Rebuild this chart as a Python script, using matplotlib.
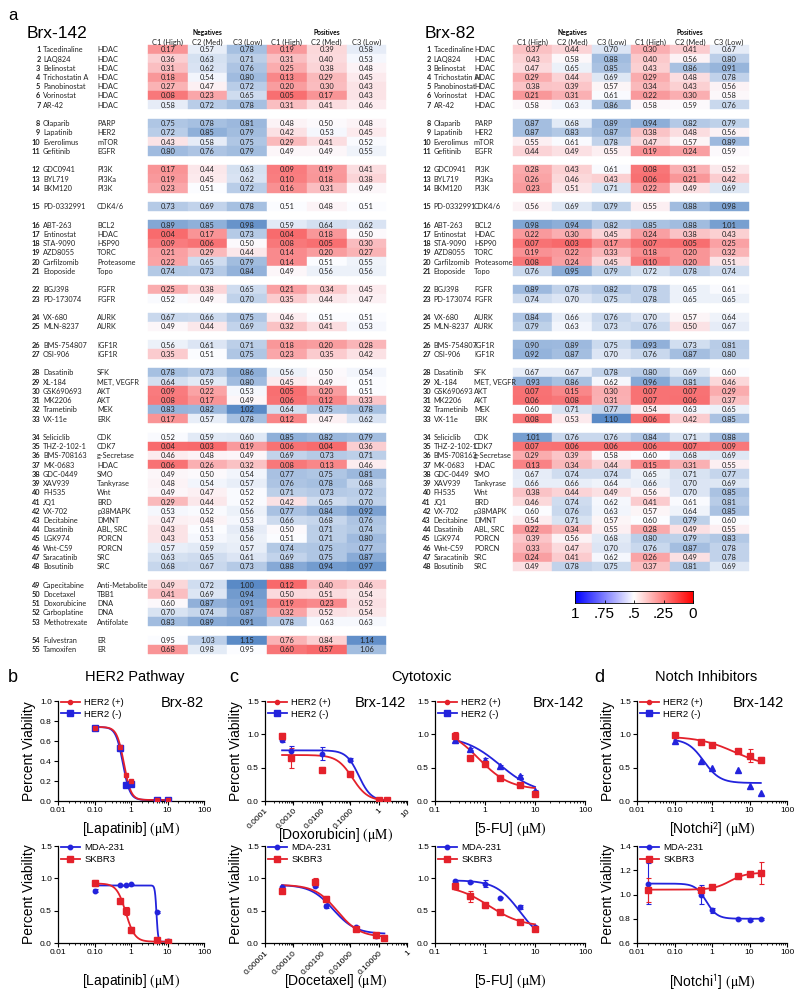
import numpy as np
import matplotlib
matplotlib.use("Agg")
import matplotlib.pyplot as plt
from matplotlib.colors import LinearSegmentedColormap, TwoSlopeNorm
from matplotlib.patches import Rectangle
from matplotlib.lines import Line2D
from matplotlib.ticker import LogLocator, NullFormatter

W, H = 800, 997
plt.rcParams["mathtext.fontset"] = "stix"

# ---------------- panel a: drug screen tables ----------------
DRUGS = ["Tacedinaline", "LAQ824", "Belinostat", "Trichostatin A", "Panobinostat", "Vorinostat", "AR-42",
         "Olaparib", "Lapatinib", "Everolimus", "Gefitinib",
         "GDC0941", "BYL719", "BKM120",
         "PD-0332991",
         "ABT-263", "Entinostat", "STA-9090", "AZD8055", "Carfilzomib", "Etoposide",
         "BGJ398", "PD-173074",
         "VX-680", "MLN-8237",
         "BMS-754807", "OSI-906",
         "Dasatinib", "XL-184", "GSK690693", "MK2206", "Trametinib", "VX-11e",
         "Seliciclib", "THZ-2-102-1", "BMS-708163", "MK-0683", "GDC-0449", "XAV939", "FH535", "JQ1",
         "VX-702", "Decitabine", "Dasatinib", "LGK974", "Wnt-C59", "Saracatinib", "Bosutinib",
         "Capecitabine", "Docetaxel", "Doxorubicine", "Carboplatine", "Methotrexate",
         "Fulvestran", "Tamoxifen"]
TARGETS = ["HDAC"] * 7 + ["PARP", "HER2", "mTOR", "EGFR", "PI3K", "PI3Ka", "PI3K", "CDK4/6",
           "BCL2", "HDAC", "HSP90", "TORC", "Proteasome", "Topo", "FGFR", "FGFR", "AURK", "AURK",
           "IGF1R", "IGF1R", "SFK", "MET, VEGFR", "AKT", "AKT", "MEK", "ERK",
           "CDK", "CDK7", "g-Secretase", "HDAC", "SMO", "Tankyrase", "Wnt", "BRD", "p38MAPK",
           "DMNT", "ABL, SRC", "PORCN", "PORCN", "SRC", "SRC",
           "Anti-Metabolite", "TBB1", "DNA", "DNA", "Antifolate", "ER", "ER"]
COLUMNS = ["C1 (High)", "C2 (Med)", "C3 (Low)"] * 2
GROUP_SIZES = [7, 4, 3, 1, 6, 2, 2, 2, 6, 15, 5, 2]

BRX142 = [
    [0.17, 0.57, 0.78, 0.19, 0.39, 0.58], [0.36, 0.63, 0.71, 0.31, 0.40, 0.53],
    [0.31, 0.62, 0.76, 0.25, 0.38, 0.48], [0.18, 0.54, 0.80, 0.13, 0.29, 0.45],
    [0.27, 0.47, 0.72, 0.20, 0.30, 0.43], [0.08, 0.23, 0.65, 0.05, 0.17, 0.43],
    [0.58, 0.72, 0.78, 0.31, 0.41, 0.46],
    [0.75, 0.78, 0.81, 0.48, 0.50, 0.48], [0.72, 0.85, 0.79, 0.42, 0.53, 0.45],
    [0.43, 0.58, 0.75, 0.29, 0.41, 0.52], [0.80, 0.76, 0.79, 0.49, 0.49, 0.55],
    [0.17, 0.44, 0.63, 0.09, 0.19, 0.41], [0.19, 0.45, 0.62, 0.10, 0.18, 0.38],
    [0.23, 0.51, 0.72, 0.16, 0.31, 0.49],
    [0.73, 0.69, 0.78, 0.51, 0.48, 0.51],
    [0.89, 0.85, 0.98, 0.59, 0.64, 0.62], [0.04, 0.17, 0.73, 0.04, 0.18, 0.50],
    [0.09, 0.06, 0.50, 0.08, 0.05, 0.30], [0.21, 0.29, 0.44, 0.14, 0.20, 0.27],
    [0.22, 0.65, 0.79, 0.14, 0.51, 0.55], [0.74, 0.73, 0.84, 0.49, 0.56, 0.56],
    [0.25, 0.38, 0.65, 0.21, 0.34, 0.45], [0.52, 0.49, 0.70, 0.35, 0.44, 0.47],
    [0.67, 0.66, 0.75, 0.46, 0.51, 0.51], [0.49, 0.44, 0.69, 0.32, 0.41, 0.53],
    [0.56, 0.61, 0.71, 0.18, 0.20, 0.28], [0.35, 0.51, 0.75, 0.23, 0.35, 0.42],
    [0.78, 0.73, 0.86, 0.56, 0.50, 0.54], [0.64, 0.59, 0.80, 0.45, 0.49, 0.51],
    [0.09, 0.22, 0.53, 0.05, 0.20, 0.51], [0.08, 0.17, 0.49, 0.06, 0.12, 0.33],
    [0.83, 0.82, 1.02, 0.64, 0.75, 0.78], [0.17, 0.57, 0.78, 0.12, 0.47, 0.62],
    [0.52, 0.59, 0.60, 0.85, 0.82, 0.79], [0.04, 0.03, 0.19, 0.06, 0.04, 0.36],
    [0.46, 0.48, 0.49, 0.69, 0.73, 0.71], [0.06, 0.26, 0.32, 0.08, 0.13, 0.46],
    [0.49, 0.50, 0.54, 0.77, 0.75, 0.81], [0.48, 0.54, 0.57, 0.76, 0.78, 0.68],
    [0.49, 0.47, 0.52, 0.71, 0.73, 0.72], [0.29, 0.44, 0.52, 0.42, 0.65, 0.70],
    [0.53, 0.52, 0.56, 0.77, 0.84, 0.92], [0.47, 0.48, 0.53, 0.66, 0.68, 0.76],
    [0.43, 0.51, 0.58, 0.50, 0.71, 0.74], [0.43, 0.53, 0.56, 0.51, 0.71, 0.80],
    [0.57, 0.59, 0.57, 0.74, 0.75, 0.77], [0.63, 0.65, 0.61, 0.69, 0.75, 0.87],
    [0.68, 0.67, 0.73, 0.88, 0.94, 0.97],
    [0.49, 0.72, 1.00, 0.12, 0.40, 0.46], [0.41, 0.69, 0.94, 0.50, 0.51, 0.54],
    [0.60, 0.87, 0.91, 0.19, 0.23, 0.52], [0.70, 0.74, 0.87, 0.32, 0.52, 0.54],
    [0.83, 0.89, 0.91, 0.78, 0.63, 0.63],
    [0.95, 1.03, 1.15, 0.76, 0.84, 1.14], [0.68, 0.98, 0.95, 0.60, 0.57, 1.06],
]

BRX82 = [
    [0.37, 0.44, 0.70, 0.30, 0.41, 0.67], [0.43, 0.58, 0.88, 0.40, 0.56, 0.80],
    [0.47, 0.65, 0.85, 0.43, 0.86, 0.91], [0.29, 0.44, 0.69, 0.29, 0.48, 0.78],
    [0.38, 0.39, 0.57, 0.34, 0.43, 0.56], [0.21, 0.31, 0.61, 0.22, 0.30, 0.58],
    [0.58, 0.63, 0.86, 0.58, 0.59, 0.76],
    [0.87, 0.68, 0.89, 0.94, 0.82, 0.79], [0.87, 0.83, 0.87, 0.38, 0.48, 0.56],
    [0.55, 0.61, 0.78, 0.47, 0.57, 0.89], [0.44, 0.49, 0.55, 0.19, 0.24, 0.59],
    [0.28, 0.43, 0.61, 0.08, 0.31, 0.52], [0.26, 0.46, 0.43, 0.06, 0.21, 0.42],
    [0.23, 0.51, 0.71, 0.22, 0.49, 0.69],
    [0.56, 0.69, 0.79, 0.55, 0.88, 0.98],
    [0.98, 0.94, 0.82, 0.85, 0.88, 1.01], [0.22, 0.30, 0.45, 0.24, 0.38, 0.43],
    [0.07, 0.03, 0.17, 0.07, 0.05, 0.25], [0.19, 0.22, 0.33, 0.18, 0.20, 0.32],
    [0.08, 0.24, 0.45, 0.10, 0.20, 0.51], [0.76, 0.95, 0.79, 0.72, 0.78, 0.74],
    [0.89, 0.78, 0.82, 0.78, 0.65, 0.61], [0.74, 0.70, 0.75, 0.78, 0.65, 0.65],
    [0.84, 0.66, 0.76, 0.70, 0.57, 0.64], [0.79, 0.63, 0.73, 0.76, 0.50, 0.67],
    [0.90, 0.89, 0.75, 0.93, 0.73, 0.81], [0.92, 0.87, 0.70, 0.76, 0.87, 0.80],
    [0.67, 0.67, 0.78, 0.80, 0.69, 0.60], [0.93, 0.86, 0.62, 0.96, 0.81, 0.46],
    [0.07, 0.15, 0.30, 0.07, 0.07, 0.29], [0.06, 0.08, 0.31, 0.07, 0.06, 0.37],
    [0.60, 0.71, 0.77, 0.54, 0.63, 0.65], [0.08, 0.53, 1.10, 0.06, 0.42, 0.85],
    [1.01, 0.76, 0.76, 0.84, 0.71, 0.88], [0.07, 0.06, 0.06, 0.06, 0.07, 0.09],
    [0.29, 0.39, 0.58, 0.60, 0.68, 0.69], [0.13, 0.34, 0.44, 0.15, 0.31, 0.55],
    [0.67, 0.74, 0.74, 0.65, 0.71, 0.77], [0.66, 0.66, 0.64, 0.66, 0.70, 0.69],
    [0.38, 0.44, 0.49, 0.56, 0.70, 0.85], [0.46, 0.74, 0.62, 0.41, 0.61, 0.81],
    [0.60, 0.76, 0.63, 0.57, 0.64, 0.85], [0.54, 0.71, 0.57, 0.60, 0.79, 0.60],
    [0.22, 0.34, 0.55, 0.28, 0.49, 0.55], [0.39, 0.56, 0.68, 0.80, 0.79, 0.83],
    [0.33, 0.47, 0.70, 0.76, 0.87, 0.78], [0.24, 0.41, 0.62, 0.26, 0.49, 0.78],
    [0.49, 0.78, 0.75, 0.37, 0.81, 0.69],
]

# row ranges that share one colour scale (as in the spreadsheet formatting)
BRX142_BLOCKS = [(0, 48), (48, 53), (53, 55)]
BRX82_BLOCKS = [(0, 48)]

# ---------------- panels b-d: dose response ----------------
LAP_X = [0.1, 0.5, 0.75, 1, 5, 10]
B1_POS = [0.73, 0.54, 0.26, 0.20, 0.01, 0.01]
B1_NEG = [0.73, 0.53, 0.16, 0.17, 0.01, 0.01]
B1_POS_FIT = (0.74, 0.01, 0.64, 4.5)   # top, bottom, EC50, hill
B1_NEG_FIT = (0.74, 0.01, 0.60, 4.5)

B2_MDA = [0.81, 0.89, 0.90, 0.91, 0.48, 0.03]
B2_MDA_ERR = [0.02, 0.01, 0.01, 0.01, 0.01, 0.01]
B2_SKBR = [0.93, 0.65, 0.50, 0.20, 0.05, 0.01]
B2_SKBR_ERR = [0.05, 0.02, 0.06, 0.04, 0.01, 0.01]
B2_MDA_FIT = (0.89, 0.02, 5.0, 20)
B2_SKBR_FIT = (0.92, 0.02, 0.72, 3.5)

DOX_X = [0.0004, 0.0008, 0.01, 0.1, 1, 2]
C1_POS = [0.97, 0.64, 0.47, 0.40, 0.01, 0.01]
C1_POS_ERR = [0.05, 0.15, 0.04, 0.02, 0.01, 0.01]
C1_NEG = [0.92, 0.75, 0.71, 0.62, 0.01, 0.01]
C1_NEG_ERR = [0.04, 0.08, 0.10, 0.02, 0.01, 0.01]
C1_POS_FIT = (0.69, 0.0, 0.12, 1.6)
C1_NEG_FIT = (0.76, 0.0, 0.20, 2.0)

FU_X = [0.25, 0.5, 1, 2, 5, 10]
C2_POS = [0.97, 0.64, 0.55, 0.35, 0.24, 0.10]
C2_POS_ERR = [0.07, 0.03, 0.03, 0.04, 0.03, 0.03]
C2_NEG = [0.92, 0.78, 0.62, 0.52, 0.37, 0.15]
C2_NEG_ERR = [0.05, 0.02, 0.02, 0.02, 0.02, 0.02]
C2_POS_FIT = (1.10, 0.17, 0.75, 1.4)
C2_NEG_FIT = (0.98, 0.10, 2.0, 1.2)

DOC_X = [0.00004, 0.0006, 0.0014, 0.016, 0.08, 0.16]
C3_MDA = [0.87, 0.88, 0.57, 0.25, 0.11, 0.07]
C3_MDA_ERR = [0.01, 0.01, 0.03, 0.02, 0.01, 0.01]
C3_SKBR = [0.80, 0.94, 0.68, 0.22, 0.12, 0.08]
C3_SKBR_ERR = [0.02, 0.06, 0.05, 0.02, 0.01, 0.01]
C3_MDA_FIT = (0.90, 0.14, 0.0025, 1.1)
C3_SKBR_FIT = (0.90, 0.09, 0.0035, 1.1)

C4_MDA = [0.96, 0.94, 0.92, 0.70, 0.55, 0.24]
C4_MDA_ERR = [0.02, 0.01, 0.05, 0.01, 0.03, 0.02]
C4_SKBR = [0.88, 0.72, 0.58, 0.48, 0.33, 0.21]
C4_SKBR_ERR = [0.05, 0.08, 0.04, 0.01, 0.02, 0.02]
C4_MDA_FIT = (0.97, 0.0, 5.0, 1.8)
C4_SKBR_FIT = (0.90, 0.25, 1.2, 1.3)

NOTCH2_X = [0.1, 0.5, 1, 5, 10, 20]
D1_POS = [0.99, 0.88, 0.84, 0.75, 0.68, 0.62]
D1_POS_ERR = [0.02, 0.02, 0.03, 0.03, 0.10, 0.04]
D1_NEG = [0.90, 0.60, 0.50, 0.47, 0.22, 0.12]
D1_POS_FIT = (0.97, 0.50, 4.0, 0.9)
D1_NEG_FIT = (0.93, 0.27, 0.6, 2.0)

NOTCH1_X = [0.02, 0.5, 1, 5, 10, 20]
D2_MDA = [1.09, 1.00, 0.87, 0.80, 0.79, 0.80]
D2_MDA_ERR = [0.17, 0.08, 0.02, 0.01, 0.01, 0.01]
D2_SKBR = [1.04, 1.04, 1.06, 1.15, 1.17, 1.18]
D2_SKBR_ERR = [0.10, 0.02, 0.01, 0.02, 0.01, 0.09]
D2_MDA_FIT = (1.09, 0.80, 0.7, 3.0)
D2_SKBR_FIT = (1.04, 1.18, 3.0, 2.0)

RED = "#e4212b"
BLUE = "#2323dc"
XL_CMAP = LinearSegmentedColormap.from_list("xl", ["#F8696B", "#FCFCFF", "#5A8AC6"])

ROW0, RH = 49.5, 9.23
TFONT = "Lato"
PFONT = "Liberation Sans"
UM = r" $\mathrm{(\mu M)}$"

fig = plt.figure(figsize=(W / 100, H / 100), dpi=100)
tab = fig.add_axes([0, 0, 1, 1])
tab.set_xlim(0, W)
tab.set_ylim(H, 0)
tab.axis("off")


def row_centers(sizes):
    ys, slot = [], 0
    for s in sizes:
        for _ in range(s):
            ys.append(ROW0 + slot * RH)
            slot += 1
        slot += 1
    return ys


def draw_table(title, title_x, vals, blocks, num_x, tgt_x, x0, cw):
    vals = np.array(vals)
    n = len(vals)
    ys = row_centers(GROUP_SIZES)[:n]
    tab.text(title_x, 33, title, fontsize=12.5, family=PFONT, va="center", ha="left")
    tab.text(x0 + 1.5 * cw, 32.5, "Negatives", fontsize=4.8, fontweight="bold",
             family=TFONT, ha="center", va="center")
    tab.text(x0 + 4.5 * cw, 32.5, "Positives", fontsize=4.8, fontweight="bold",
             family=TFONT, ha="center", va="center")
    for c, lab in enumerate(COLUMNS):
        tab.text(x0 + (c + 0.5) * cw, 42, lab, fontsize=5.4, family=TFONT,
                 ha="center", va="center", color="#222222")
    clip = Rectangle((0, 0), tgt_x - 1.5, H, transform=tab.transData)
    for a, b in blocks:
        block = vals[a:b]
        norm = TwoSlopeNorm(vcenter=np.median(block), vmin=block.min(), vmax=block.max())
        for r in range(a, b):
            for c in range(6):
                col = XL_CMAP(norm(vals[r, c]))
                tab.add_patch(Rectangle((x0 + c * cw, ys[r] - RH / 2), cw, RH,
                                        facecolor=col, edgecolor=col, linewidth=0.3))
                tab.text(x0 + (c + 0.5) * cw, ys[r] + 0.3, f"{vals[r, c]:.2f}",
                         fontsize=5.4, family=TFONT, ha="center", va="center", color="#222222")
    for r in range(n):
        tab.text(num_x, ys[r] + 0.3, str(r + 1), fontsize=5.3, fontweight="bold",
                 family=TFONT, ha="right", va="center", color="#222222")
        t = tab.text(num_x + 2.5, ys[r] + 0.3, DRUGS[r], fontsize=5.3, family=TFONT,
                     ha="left", va="center", color="#222222")
        t.set_clip_path(clip)
        tab.text(tgt_x, ys[r] + 0.3, TARGETS[r], fontsize=5.3, family=TFONT,
                 ha="left", va="center", color="#222222")


tab.text(8, 15, "a", fontsize=12, family=PFONT, va="center")
draw_table("Brx-142", 27, BRX142, BRX142_BLOCKS, 40.5, 97, 148, 39.7)
draw_table("Brx-82", 425, BRX82, BRX82_BLOCKS, 431, 474, 513, 39.3)

# colour bar
cax = fig.add_axes([575 / W, 1 - 603 / H, 118 / W, 12 / H])
cax.imshow(np.linspace(1, 0, 256)[None, :], aspect="auto", cmap="bwr_r",
           extent=[1, 0, 0, 1], vmin=0, vmax=1)
cax.set_xticks([1, 0.75, 0.5, 0.25, 0])
cax.set_xticklabels(["1", ".75", ".5", ".25", "0"], family=PFONT, fontsize=11)
cax.set_yticks([])
cax.tick_params(axis="x", direction="in", length=2.5, width=0.6, pad=3)
for s in cax.spines.values():
    s.set_linewidth(0.6)


# ---------------- bottom panels ----------------
def px_axes(x0, y0, x1, y1):
    return fig.add_axes([x0 / W, 1 - y1 / H, (x1 - x0) / W, (y1 - y0) / H])


def ftext(x, y, s, **kw):
    kw.setdefault("family", PFONT)
    fig.text(x / W, 1 - y / H, s, **kw)


def style(ax, xlim, ylim, yticks, xticks, xlabels, xlabel, ylabel=True, rot=0, lab_y=-0.19):
    ax.set_xscale("log")
    ax.set_xlim(xlim)
    ax.set_ylim(ylim)
    ax.set_yticks(yticks)
    ax.set_yticklabels([f"{t:.1f}" for t in yticks], family=PFONT)
    ax.set_xticks(xticks)
    if rot:
        ax.set_xticklabels(xlabels, rotation=rot, ha="right", rotation_mode="anchor",
                           family=PFONT, fontsize=4.8)
    else:
        ax.set_xticklabels(xlabels, family=PFONT)
    ax.xaxis.set_minor_locator(LogLocator(base=10, subs=np.arange(2, 10), numticks=20))
    ax.xaxis.set_minor_formatter(NullFormatter())
    for s in ["top", "right"]:
        ax.spines[s].set_visible(False)
    for s in ["left", "bottom"]:
        ax.spines[s].set_linewidth(0.9)
    ax.tick_params(labelsize=6, length=3, width=0.8, pad=1.5)
    ax.tick_params(which="minor", length=1.6, width=0.6)
    ax.set_xlabel(xlabel + UM, fontsize=10, family=PFONT)
    ax.xaxis.set_label_coords(0.5, lab_y)
    if ylabel:
        ax.set_ylabel("Percent Viability", fontsize=10, family=PFONT, labelpad=3)


def curve(ax, x, fit, color):
    top, bottom, ec50, hill = fit
    xs = np.logspace(np.log10(min(x)), np.log10(max(x)), 300)
    ax.plot(xs, bottom + (top - bottom) / (1 + (xs / ec50) ** hill), color=color, lw=1.3, zorder=2)


def points(ax, x, y, err, color, marker, ms):
    ax.errorbar(x, y, yerr=err, fmt=marker, color=color, ms=ms, capsize=1.8,
                elinewidth=0.8, capthick=0.8, zorder=3)


def legend(ax, entries):
    handles = [Line2D([0], [0], color=c, marker=m, ms=ms, lw=1.3, label=l) for l, c, m, ms in entries]
    ax.legend(handles=handles, loc="upper left", bbox_to_anchor=(0.0, 1.06), frameon=False,
              prop={"family": PFONT, "size": 6.8}, handlelength=2.0, handletextpad=0.5,
              labelspacing=0.3, borderaxespad=0.2, borderpad=0.1)


HER2_LEG = [("HER2 (+)", RED, "o", 3), ("HER2 (-)", BLUE, "s", 4.5)]
LINE_LEG = [("MDA-231", BLUE, "o", 3.2), ("SKBR3", RED, "s", 4.5)]
TOP = (701, 801)
BOT = (846, 943)
LOG4 = ([0.01, 0.1, 1, 10, 100], ["0.01", "0.10", "1", "10", "100"])
LOG3 = ([0.1, 1, 10, 100], ["0.1", "1", "10", "100"])

# b top
ax = px_axes(58, TOP[0], 204, TOP[1])
style(ax, (0.01, 100), (0, 1.0), [0, 0.2, 0.4, 0.6, 0.8, 1.0], *LOG4, "[Lapatinib]")
curve(ax, LAP_X, B1_NEG_FIT, BLUE)
curve(ax, LAP_X, B1_POS_FIT, RED)
points(ax, LAP_X, B1_NEG, None, BLUE, "s", 5)
points(ax, LAP_X, B1_POS, None, RED, "s", 3.5)
legend(ax, HER2_LEG)

# b bottom
ax = px_axes(58, BOT[0], 204, BOT[1])
style(ax, (0.01, 100), (0, 1.5), [0, 0.5, 1.0, 1.5], *LOG4, "[Lapatinib]", lab_y=-0.30)
curve(ax, LAP_X, B2_MDA_FIT, BLUE)
curve(ax, LAP_X, B2_SKBR_FIT, RED)
points(ax, LAP_X, B2_MDA, B2_MDA_ERR, BLUE, "o", 3.2)
points(ax, LAP_X, B2_SKBR, B2_SKBR_ERR, RED, "s", 3.8)
legend(ax, LINE_LEG)

# c top left
ax = px_axes(265, TOP[0], 407, TOP[1])
style(ax, (0.0001, 10), (0, 1.5), [0, 0.5, 1.0, 1.5], [0.0001, 0.001, 0.01, 0.1, 1, 10],
      ["0.0001", "0.0010", "0.0100", "0.1000", "1", "10"], "[Doxorubicin]", rot=45, lab_y=-0.245)
curve(ax, DOX_X, C1_NEG_FIT, BLUE)
curve(ax, DOX_X, C1_POS_FIT, RED)
points(ax, DOX_X, C1_NEG, C1_NEG_ERR, BLUE, "o", 3.2)
points(ax, DOX_X, C1_POS, C1_POS_ERR, RED, "s", 3.8)
legend(ax, HER2_LEG)

# c bottom left
ax = px_axes(265, BOT[0], 407, BOT[1])
style(ax, (0.00001, 1), (0, 1.5), [0, 0.5, 1.0, 1.5], [0.00001, 0.0001, 0.001, 0.01, 0.1, 1],
      ["0.00001", "0.00010", "0.00100", "0.01000", "0.10000", "1"], "[Docetaxel]",
      rot=45, lab_y=-0.30)
curve(ax, DOC_X, C3_MDA_FIT, BLUE)
curve(ax, DOC_X, C3_SKBR_FIT, RED)
points(ax, DOC_X, C3_MDA, C3_MDA_ERR, BLUE, "o", 3.2)
points(ax, DOC_X, C3_SKBR, C3_SKBR_ERR, RED, "s", 3.8)
legend(ax, LINE_LEG)

# c top right
ax = px_axes(435, TOP[0], 585, TOP[1])
style(ax, (0.1, 100), (0, 1.5), [0, 0.5, 1.0, 1.5], *LOG3, "[5-FU]", ylabel=False)
curve(ax, FU_X, C2_NEG_FIT, BLUE)
curve(ax, FU_X, C2_POS_FIT, RED)
points(ax, FU_X, C2_NEG, C2_NEG_ERR, BLUE, "^", 4)
points(ax, FU_X, C2_POS, C2_POS_ERR, RED, "s", 4.2)
legend(ax, HER2_LEG)

# c bottom right
ax = px_axes(435, BOT[0], 585, BOT[1])
style(ax, (0.1, 100), (0, 1.5), [0, 0.5, 1.0, 1.5], *LOG3, "[5-FU]", ylabel=False, lab_y=-0.30)
curve(ax, FU_X, C4_MDA_FIT, BLUE)
curve(ax, FU_X, C4_SKBR_FIT, RED)
points(ax, FU_X, C4_MDA, C4_MDA_ERR, BLUE, "o", 3.2)
points(ax, FU_X, C4_SKBR, C4_SKBR_ERR, RED, "s", 3.8)
legend(ax, LINE_LEG)

# d top
ax = px_axes(637, TOP[0], 787, TOP[1])
style(ax, (0.01, 100), (0, 1.5), [0, 0.5, 1.0, 1.5], *LOG4, r"[Notchi$^{\mathsf{2}}$]")
curve(ax, NOTCH2_X, D1_NEG_FIT, BLUE)
curve(ax, NOTCH2_X, D1_POS_FIT, RED)
points(ax, NOTCH2_X, D1_NEG, None, BLUE, "^", 4)
points(ax, NOTCH2_X, D1_POS, D1_POS_ERR, RED, "s", 4.5)
legend(ax, HER2_LEG)

# d bottom
ax = px_axes(637, BOT[0], 787, BOT[1])
style(ax, (0.01, 100), (0.6, 1.4), [0.6, 0.8, 1.0, 1.2, 1.4], *LOG4, r"[Notchi$^{\mathsf{1}}$]",
      lab_y=-0.30)
curve(ax, NOTCH1_X, D2_MDA_FIT, BLUE)
curve(ax, NOTCH1_X, D2_SKBR_FIT, RED)
points(ax, NOTCH1_X, D2_MDA, D2_MDA_ERR, BLUE, "o", 3.2)
points(ax, NOTCH1_X, D2_SKBR, D2_SKBR_ERR, RED, "s", 3.8)
legend(ax, LINE_LEG)

# panel letters, titles, sample names
for x, s in [(8, "b"), (229, "c"), (594, "d")]:
    ftext(x, 677, s, fontsize=13, va="center")
ftext(135, 677, "HER2 Pathway", fontsize=10.5, ha="center", va="center")
ftext(422, 677, "Cytotoxic", fontsize=10.5, ha="center", va="center")
ftext(706, 677, "Notch Inhibitors", fontsize=10.5, ha="center", va="center")
ftext(182, 703, "Brx-82", fontsize=10.5, ha="center", va="center")
for x in [380, 558, 758]:
    ftext(x, 703, "Brx-142", fontsize=10.5, ha="center", va="center")

fig.savefig("out.png", dpi=100)
